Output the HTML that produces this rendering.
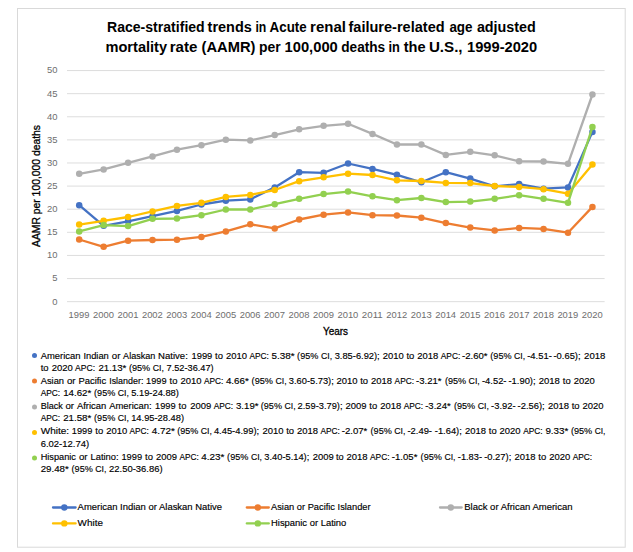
<!DOCTYPE html>
<html><head><meta charset="utf-8"><title>Chart</title>
<style>html,body{margin:0;padding:0;background:#fff;}svg{display:block;}text{font-family:"Liberation Sans",sans-serif;}</style>
</head><body>
<svg width="633" height="552" viewBox="0 0 633 552">
<rect x="0" y="0" width="633" height="552" fill="#ffffff"/>
<rect x="17.5" y="8.5" width="607.7" height="538.7" fill="#ffffff" stroke="#D9D9D9" stroke-width="1"/>
<line x1="67" y1="301.65" x2="604.6" y2="301.65" stroke="#D9D9D9" stroke-width="0.9"/>
<text x="52.15" y="304.50" font-size="9.6" fill="#6e6e6e" textLength="5.25" lengthAdjust="spacingAndGlyphs">0</text>
<line x1="67" y1="278.54" x2="604.6" y2="278.54" stroke="#D9D9D9" stroke-width="0.9"/>
<text x="52.15" y="281.39" font-size="9.6" fill="#6e6e6e" textLength="5.25" lengthAdjust="spacingAndGlyphs">5</text>
<line x1="67" y1="255.43" x2="604.6" y2="255.43" stroke="#D9D9D9" stroke-width="0.9"/>
<text x="46.90" y="258.28" font-size="9.6" fill="#6e6e6e" textLength="10.50" lengthAdjust="spacingAndGlyphs">10</text>
<line x1="67" y1="232.32" x2="604.6" y2="232.32" stroke="#D9D9D9" stroke-width="0.9"/>
<text x="46.90" y="235.17" font-size="9.6" fill="#6e6e6e" textLength="10.50" lengthAdjust="spacingAndGlyphs">15</text>
<line x1="67" y1="209.21" x2="604.6" y2="209.21" stroke="#D9D9D9" stroke-width="0.9"/>
<text x="46.90" y="212.06" font-size="9.6" fill="#6e6e6e" textLength="10.50" lengthAdjust="spacingAndGlyphs">20</text>
<line x1="67" y1="186.10" x2="604.6" y2="186.10" stroke="#D9D9D9" stroke-width="0.9"/>
<text x="46.90" y="188.95" font-size="9.6" fill="#6e6e6e" textLength="10.50" lengthAdjust="spacingAndGlyphs">25</text>
<line x1="67" y1="162.99" x2="604.6" y2="162.99" stroke="#D9D9D9" stroke-width="0.9"/>
<text x="46.90" y="165.84" font-size="9.6" fill="#6e6e6e" textLength="10.50" lengthAdjust="spacingAndGlyphs">30</text>
<line x1="67" y1="139.88" x2="604.6" y2="139.88" stroke="#D9D9D9" stroke-width="0.9"/>
<text x="46.90" y="142.73" font-size="9.6" fill="#6e6e6e" textLength="10.50" lengthAdjust="spacingAndGlyphs">35</text>
<line x1="67" y1="116.77" x2="604.6" y2="116.77" stroke="#D9D9D9" stroke-width="0.9"/>
<text x="46.90" y="119.62" font-size="9.6" fill="#6e6e6e" textLength="10.50" lengthAdjust="spacingAndGlyphs">40</text>
<line x1="67" y1="93.66" x2="604.6" y2="93.66" stroke="#D9D9D9" stroke-width="0.9"/>
<text x="46.90" y="96.51" font-size="9.6" fill="#6e6e6e" textLength="10.50" lengthAdjust="spacingAndGlyphs">45</text>
<line x1="67" y1="70.55" x2="604.6" y2="70.55" stroke="#D9D9D9" stroke-width="0.9"/>
<text x="46.90" y="73.00" font-size="9.6" fill="#6e6e6e" textLength="10.50" lengthAdjust="spacingAndGlyphs">50</text>
<text x="68.60" y="317.6" font-size="9.6" fill="#6e6e6e" textLength="20.9" lengthAdjust="spacingAndGlyphs">1999</text>
<text x="93.04" y="317.6" font-size="9.6" fill="#6e6e6e" textLength="20.9" lengthAdjust="spacingAndGlyphs">2000</text>
<text x="117.48" y="317.6" font-size="9.6" fill="#6e6e6e" textLength="20.9" lengthAdjust="spacingAndGlyphs">2001</text>
<text x="141.92" y="317.6" font-size="9.6" fill="#6e6e6e" textLength="20.9" lengthAdjust="spacingAndGlyphs">2002</text>
<text x="166.36" y="317.6" font-size="9.6" fill="#6e6e6e" textLength="20.9" lengthAdjust="spacingAndGlyphs">2003</text>
<text x="190.80" y="317.6" font-size="9.6" fill="#6e6e6e" textLength="20.9" lengthAdjust="spacingAndGlyphs">2004</text>
<text x="215.24" y="317.6" font-size="9.6" fill="#6e6e6e" textLength="20.9" lengthAdjust="spacingAndGlyphs">2005</text>
<text x="239.68" y="317.6" font-size="9.6" fill="#6e6e6e" textLength="20.9" lengthAdjust="spacingAndGlyphs">2006</text>
<text x="264.12" y="317.6" font-size="9.6" fill="#6e6e6e" textLength="20.9" lengthAdjust="spacingAndGlyphs">2007</text>
<text x="288.56" y="317.6" font-size="9.6" fill="#6e6e6e" textLength="20.9" lengthAdjust="spacingAndGlyphs">2008</text>
<text x="313.00" y="317.6" font-size="9.6" fill="#6e6e6e" textLength="20.9" lengthAdjust="spacingAndGlyphs">2009</text>
<text x="337.44" y="317.6" font-size="9.6" fill="#6e6e6e" textLength="20.9" lengthAdjust="spacingAndGlyphs">2010</text>
<text x="361.88" y="317.6" font-size="9.6" fill="#6e6e6e" textLength="20.9" lengthAdjust="spacingAndGlyphs">2011</text>
<text x="386.32" y="317.6" font-size="9.6" fill="#6e6e6e" textLength="20.9" lengthAdjust="spacingAndGlyphs">2012</text>
<text x="410.76" y="317.6" font-size="9.6" fill="#6e6e6e" textLength="20.9" lengthAdjust="spacingAndGlyphs">2013</text>
<text x="435.20" y="317.6" font-size="9.6" fill="#6e6e6e" textLength="20.9" lengthAdjust="spacingAndGlyphs">2014</text>
<text x="459.64" y="317.6" font-size="9.6" fill="#6e6e6e" textLength="20.9" lengthAdjust="spacingAndGlyphs">2015</text>
<text x="484.08" y="317.6" font-size="9.6" fill="#6e6e6e" textLength="20.9" lengthAdjust="spacingAndGlyphs">2016</text>
<text x="508.52" y="317.6" font-size="9.6" fill="#6e6e6e" textLength="20.9" lengthAdjust="spacingAndGlyphs">2017</text>
<text x="532.96" y="317.6" font-size="9.6" fill="#6e6e6e" textLength="20.9" lengthAdjust="spacingAndGlyphs">2018</text>
<text x="557.40" y="317.6" font-size="9.6" fill="#6e6e6e" textLength="20.9" lengthAdjust="spacingAndGlyphs">2019</text>
<text x="581.84" y="317.6" font-size="9.6" fill="#6e6e6e" textLength="20.9" lengthAdjust="spacingAndGlyphs">2020</text>
<polyline points="79.20,205.20 103.64,225.80 128.08,221.30 152.52,216.20 176.96,210.90 201.40,204.50 225.84,200.70 250.28,199.40 274.72,187.40 299.16,172.20 323.60,172.80 348.04,163.50 372.48,168.90 396.92,174.80 421.36,182.30 445.80,172.20 470.24,178.60 494.68,186.30 519.12,184.10 543.56,188.70 568.00,187.40 592.44,131.90" fill="none" stroke="#4472C4" stroke-width="2.3" stroke-linejoin="round" stroke-linecap="round"/>
<circle cx="79.20" cy="205.20" r="3.25" fill="#4472C4"/>
<circle cx="103.64" cy="225.80" r="3.25" fill="#4472C4"/>
<circle cx="128.08" cy="221.30" r="3.25" fill="#4472C4"/>
<circle cx="152.52" cy="216.20" r="3.25" fill="#4472C4"/>
<circle cx="176.96" cy="210.90" r="3.25" fill="#4472C4"/>
<circle cx="201.40" cy="204.50" r="3.25" fill="#4472C4"/>
<circle cx="225.84" cy="200.70" r="3.25" fill="#4472C4"/>
<circle cx="250.28" cy="199.40" r="3.25" fill="#4472C4"/>
<circle cx="274.72" cy="187.40" r="3.25" fill="#4472C4"/>
<circle cx="299.16" cy="172.20" r="3.25" fill="#4472C4"/>
<circle cx="323.60" cy="172.80" r="3.25" fill="#4472C4"/>
<circle cx="348.04" cy="163.50" r="3.25" fill="#4472C4"/>
<circle cx="372.48" cy="168.90" r="3.25" fill="#4472C4"/>
<circle cx="396.92" cy="174.80" r="3.25" fill="#4472C4"/>
<circle cx="421.36" cy="182.30" r="3.25" fill="#4472C4"/>
<circle cx="445.80" cy="172.20" r="3.25" fill="#4472C4"/>
<circle cx="470.24" cy="178.60" r="3.25" fill="#4472C4"/>
<circle cx="494.68" cy="186.30" r="3.25" fill="#4472C4"/>
<circle cx="519.12" cy="184.10" r="3.25" fill="#4472C4"/>
<circle cx="543.56" cy="188.70" r="3.25" fill="#4472C4"/>
<circle cx="568.00" cy="187.40" r="3.25" fill="#4472C4"/>
<circle cx="592.44" cy="131.90" r="3.25" fill="#4472C4"/>
<polyline points="79.20,239.50 103.64,246.80 128.08,240.70 152.52,240.00 176.96,239.70 201.40,236.90 225.84,231.40 250.28,224.30 274.72,228.40 299.16,219.50 323.60,214.70 348.04,212.40 372.48,215.20 396.92,215.50 421.36,217.70 445.80,223.10 470.24,227.60 494.68,230.40 519.12,227.90 543.56,228.90 568.00,232.70 592.44,206.90" fill="none" stroke="#ED7D31" stroke-width="2.3" stroke-linejoin="round" stroke-linecap="round"/>
<circle cx="79.20" cy="239.50" r="3.25" fill="#ED7D31"/>
<circle cx="103.64" cy="246.80" r="3.25" fill="#ED7D31"/>
<circle cx="128.08" cy="240.70" r="3.25" fill="#ED7D31"/>
<circle cx="152.52" cy="240.00" r="3.25" fill="#ED7D31"/>
<circle cx="176.96" cy="239.70" r="3.25" fill="#ED7D31"/>
<circle cx="201.40" cy="236.90" r="3.25" fill="#ED7D31"/>
<circle cx="225.84" cy="231.40" r="3.25" fill="#ED7D31"/>
<circle cx="250.28" cy="224.30" r="3.25" fill="#ED7D31"/>
<circle cx="274.72" cy="228.40" r="3.25" fill="#ED7D31"/>
<circle cx="299.16" cy="219.50" r="3.25" fill="#ED7D31"/>
<circle cx="323.60" cy="214.70" r="3.25" fill="#ED7D31"/>
<circle cx="348.04" cy="212.40" r="3.25" fill="#ED7D31"/>
<circle cx="372.48" cy="215.20" r="3.25" fill="#ED7D31"/>
<circle cx="396.92" cy="215.50" r="3.25" fill="#ED7D31"/>
<circle cx="421.36" cy="217.70" r="3.25" fill="#ED7D31"/>
<circle cx="445.80" cy="223.10" r="3.25" fill="#ED7D31"/>
<circle cx="470.24" cy="227.60" r="3.25" fill="#ED7D31"/>
<circle cx="494.68" cy="230.40" r="3.25" fill="#ED7D31"/>
<circle cx="519.12" cy="227.90" r="3.25" fill="#ED7D31"/>
<circle cx="543.56" cy="228.90" r="3.25" fill="#ED7D31"/>
<circle cx="568.00" cy="232.70" r="3.25" fill="#ED7D31"/>
<circle cx="592.44" cy="206.90" r="3.25" fill="#ED7D31"/>
<polyline points="79.20,173.80 103.64,169.40 128.08,162.80 152.52,156.40 176.96,149.70 201.40,145.20 225.84,139.70 250.28,140.40 274.72,135.10 299.16,129.30 323.60,125.80 348.04,123.80 372.48,133.90 396.92,144.50 421.36,144.50 445.80,154.90 470.24,151.80 494.68,155.30 519.12,161.30 543.56,161.50 568.00,163.80 592.44,94.50" fill="none" stroke="#AFAFAF" stroke-width="2.3" stroke-linejoin="round" stroke-linecap="round"/>
<circle cx="79.20" cy="173.80" r="3.25" fill="#AFAFAF"/>
<circle cx="103.64" cy="169.40" r="3.25" fill="#AFAFAF"/>
<circle cx="128.08" cy="162.80" r="3.25" fill="#AFAFAF"/>
<circle cx="152.52" cy="156.40" r="3.25" fill="#AFAFAF"/>
<circle cx="176.96" cy="149.70" r="3.25" fill="#AFAFAF"/>
<circle cx="201.40" cy="145.20" r="3.25" fill="#AFAFAF"/>
<circle cx="225.84" cy="139.70" r="3.25" fill="#AFAFAF"/>
<circle cx="250.28" cy="140.40" r="3.25" fill="#AFAFAF"/>
<circle cx="274.72" cy="135.10" r="3.25" fill="#AFAFAF"/>
<circle cx="299.16" cy="129.30" r="3.25" fill="#AFAFAF"/>
<circle cx="323.60" cy="125.80" r="3.25" fill="#AFAFAF"/>
<circle cx="348.04" cy="123.80" r="3.25" fill="#AFAFAF"/>
<circle cx="372.48" cy="133.90" r="3.25" fill="#AFAFAF"/>
<circle cx="396.92" cy="144.50" r="3.25" fill="#AFAFAF"/>
<circle cx="421.36" cy="144.50" r="3.25" fill="#AFAFAF"/>
<circle cx="445.80" cy="154.90" r="3.25" fill="#AFAFAF"/>
<circle cx="470.24" cy="151.80" r="3.25" fill="#AFAFAF"/>
<circle cx="494.68" cy="155.30" r="3.25" fill="#AFAFAF"/>
<circle cx="519.12" cy="161.30" r="3.25" fill="#AFAFAF"/>
<circle cx="543.56" cy="161.50" r="3.25" fill="#AFAFAF"/>
<circle cx="568.00" cy="163.80" r="3.25" fill="#AFAFAF"/>
<circle cx="592.44" cy="94.50" r="3.25" fill="#AFAFAF"/>
<polyline points="79.20,224.60 103.64,220.80 128.08,217.00 152.52,211.40 176.96,205.90 201.40,202.80 225.84,196.90 250.28,194.90 274.72,190.00 299.16,181.20 323.60,177.30 348.04,173.70 372.48,175.00 396.92,180.30 421.36,181.00 445.80,182.90 470.24,183.10 494.68,186.00 519.12,186.90 543.56,189.20 568.00,193.70 592.44,164.40" fill="none" stroke="#FFC000" stroke-width="2.3" stroke-linejoin="round" stroke-linecap="round"/>
<circle cx="79.20" cy="224.60" r="3.25" fill="#FFC000"/>
<circle cx="103.64" cy="220.80" r="3.25" fill="#FFC000"/>
<circle cx="128.08" cy="217.00" r="3.25" fill="#FFC000"/>
<circle cx="152.52" cy="211.40" r="3.25" fill="#FFC000"/>
<circle cx="176.96" cy="205.90" r="3.25" fill="#FFC000"/>
<circle cx="201.40" cy="202.80" r="3.25" fill="#FFC000"/>
<circle cx="225.84" cy="196.90" r="3.25" fill="#FFC000"/>
<circle cx="250.28" cy="194.90" r="3.25" fill="#FFC000"/>
<circle cx="274.72" cy="190.00" r="3.25" fill="#FFC000"/>
<circle cx="299.16" cy="181.20" r="3.25" fill="#FFC000"/>
<circle cx="323.60" cy="177.30" r="3.25" fill="#FFC000"/>
<circle cx="348.04" cy="173.70" r="3.25" fill="#FFC000"/>
<circle cx="372.48" cy="175.00" r="3.25" fill="#FFC000"/>
<circle cx="396.92" cy="180.30" r="3.25" fill="#FFC000"/>
<circle cx="421.36" cy="181.00" r="3.25" fill="#FFC000"/>
<circle cx="445.80" cy="182.90" r="3.25" fill="#FFC000"/>
<circle cx="470.24" cy="183.10" r="3.25" fill="#FFC000"/>
<circle cx="494.68" cy="186.00" r="3.25" fill="#FFC000"/>
<circle cx="519.12" cy="186.90" r="3.25" fill="#FFC000"/>
<circle cx="543.56" cy="189.20" r="3.25" fill="#FFC000"/>
<circle cx="568.00" cy="193.70" r="3.25" fill="#FFC000"/>
<circle cx="592.44" cy="164.40" r="3.25" fill="#FFC000"/>
<polyline points="79.20,231.40 103.64,225.10 128.08,226.10 152.52,218.80 176.96,218.50 201.40,215.20 225.84,209.50 250.28,209.50 274.72,204.20 299.16,198.80 323.60,194.10 348.04,191.60 372.48,196.30 396.92,200.20 421.36,198.00 445.80,202.10 470.24,201.60 494.68,198.80 519.12,195.20 543.56,198.80 568.00,202.80 592.44,127.10" fill="none" stroke="#92D050" stroke-width="2.3" stroke-linejoin="round" stroke-linecap="round"/>
<circle cx="79.20" cy="231.40" r="3.25" fill="#92D050"/>
<circle cx="103.64" cy="225.10" r="3.25" fill="#92D050"/>
<circle cx="128.08" cy="226.10" r="3.25" fill="#92D050"/>
<circle cx="152.52" cy="218.80" r="3.25" fill="#92D050"/>
<circle cx="176.96" cy="218.50" r="3.25" fill="#92D050"/>
<circle cx="201.40" cy="215.20" r="3.25" fill="#92D050"/>
<circle cx="225.84" cy="209.50" r="3.25" fill="#92D050"/>
<circle cx="250.28" cy="209.50" r="3.25" fill="#92D050"/>
<circle cx="274.72" cy="204.20" r="3.25" fill="#92D050"/>
<circle cx="299.16" cy="198.80" r="3.25" fill="#92D050"/>
<circle cx="323.60" cy="194.10" r="3.25" fill="#92D050"/>
<circle cx="348.04" cy="191.60" r="3.25" fill="#92D050"/>
<circle cx="372.48" cy="196.30" r="3.25" fill="#92D050"/>
<circle cx="396.92" cy="200.20" r="3.25" fill="#92D050"/>
<circle cx="421.36" cy="198.00" r="3.25" fill="#92D050"/>
<circle cx="445.80" cy="202.10" r="3.25" fill="#92D050"/>
<circle cx="470.24" cy="201.60" r="3.25" fill="#92D050"/>
<circle cx="494.68" cy="198.80" r="3.25" fill="#92D050"/>
<circle cx="519.12" cy="195.20" r="3.25" fill="#92D050"/>
<circle cx="543.56" cy="198.80" r="3.25" fill="#92D050"/>
<circle cx="568.00" cy="202.80" r="3.25" fill="#92D050"/>
<circle cx="592.44" cy="127.10" r="3.25" fill="#92D050"/>
<text x="107.00" y="31.60" font-size="14.5" font-weight="bold" fill="#000" textLength="97.70" lengthAdjust="spacingAndGlyphs">Race-stratified</text>
<text x="207.60" y="31.60" font-size="14.5" font-weight="bold" fill="#000" textLength="44.20" lengthAdjust="spacingAndGlyphs">trends</text>
<text x="255.40" y="31.60" font-size="14.5" font-weight="bold" fill="#000" textLength="10.90" lengthAdjust="spacingAndGlyphs">in</text>
<text x="269.60" y="31.60" font-size="14.5" font-weight="bold" fill="#000" textLength="37.10" lengthAdjust="spacingAndGlyphs">Acute</text>
<text x="310.10" y="31.60" font-size="14.5" font-weight="bold" fill="#000" textLength="35.80" lengthAdjust="spacingAndGlyphs">renal</text>
<text x="348.50" y="31.60" font-size="14.5" font-weight="bold" fill="#000" textLength="96.10" lengthAdjust="spacingAndGlyphs">failure-related</text>
<text x="449.40" y="31.60" font-size="14.5" font-weight="bold" fill="#000" textLength="23.20" lengthAdjust="spacingAndGlyphs">age</text>
<text x="476.90" y="31.60" font-size="14.5" font-weight="bold" fill="#000" textLength="58.90" lengthAdjust="spacingAndGlyphs">adjusted</text>
<text x="105.50" y="51.60" font-size="14.5" font-weight="bold" fill="#000" textLength="61.60" lengthAdjust="spacingAndGlyphs">mortality</text>
<text x="169.70" y="51.60" font-size="14.5" font-weight="bold" fill="#000" textLength="27.70" lengthAdjust="spacingAndGlyphs">rate</text>
<text x="201.50" y="51.60" font-size="14.5" font-weight="bold" fill="#000" textLength="53.90" lengthAdjust="spacingAndGlyphs">(AAMR)</text>
<text x="259.00" y="51.60" font-size="14.5" font-weight="bold" fill="#000" textLength="21.70" lengthAdjust="spacingAndGlyphs">per</text>
<text x="284.50" y="51.60" font-size="14.5" font-weight="bold" fill="#000" textLength="53.30" lengthAdjust="spacingAndGlyphs">100,000</text>
<text x="341.30" y="51.60" font-size="14.5" font-weight="bold" fill="#000" textLength="43.90" lengthAdjust="spacingAndGlyphs">deaths</text>
<text x="388.40" y="51.60" font-size="14.5" font-weight="bold" fill="#000" textLength="11.40" lengthAdjust="spacingAndGlyphs">in</text>
<text x="403.70" y="51.60" font-size="14.5" font-weight="bold" fill="#000" textLength="21.90" lengthAdjust="spacingAndGlyphs">the</text>
<text x="428.90" y="51.60" font-size="14.5" font-weight="bold" fill="#000" textLength="33.70" lengthAdjust="spacingAndGlyphs">U.S.,</text>
<text x="467.00" y="51.60" font-size="14.5" font-weight="bold" fill="#000" textLength="70.20" lengthAdjust="spacingAndGlyphs">1999-2020</text>
<text x="323.00" y="334.90" font-size="10.0" font-weight="normal" fill="#000" textLength="25.10" lengthAdjust="spacingAndGlyphs" stroke="#000" stroke-width="0.3">Years</text>
<text transform="translate(40.3,247) rotate(-90)" x="0" y="0" font-size="10.0" fill="#000" stroke="#000" stroke-width="0.3" textLength="122" lengthAdjust="spacingAndGlyphs">AAMR per 100,000 deaths</text>
<text x="40.70" y="358.60" font-size="9.4" font-weight="normal" fill="#000" textLength="39.80" lengthAdjust="spacingAndGlyphs" stroke="#000" stroke-width="0.15">American</text>
<text x="83.40" y="358.60" font-size="9.4" font-weight="normal" fill="#000" textLength="25.40" lengthAdjust="spacingAndGlyphs" stroke="#000" stroke-width="0.15">Indian</text>
<text x="111.80" y="358.60" font-size="9.4" font-weight="normal" fill="#000" textLength="8.60" lengthAdjust="spacingAndGlyphs" stroke="#000" stroke-width="0.15">or</text>
<text x="123.10" y="358.60" font-size="9.4" font-weight="normal" fill="#000" textLength="32.20" lengthAdjust="spacingAndGlyphs" stroke="#000" stroke-width="0.15">Alaskan</text>
<text x="158.00" y="358.60" font-size="9.4" font-weight="normal" fill="#000" textLength="29.80" lengthAdjust="spacingAndGlyphs" stroke="#000" stroke-width="0.15">Native:</text>
<text x="191.50" y="358.60" font-size="9.4" font-weight="normal" fill="#000" textLength="20.80" lengthAdjust="spacingAndGlyphs" stroke="#000" stroke-width="0.15">1999</text>
<text x="215.00" y="358.60" font-size="9.4" font-weight="normal" fill="#000" textLength="7.90" lengthAdjust="spacingAndGlyphs" stroke="#000" stroke-width="0.15">to</text>
<text x="225.90" y="358.60" font-size="9.4" font-weight="normal" fill="#000" textLength="21.00" lengthAdjust="spacingAndGlyphs" stroke="#000" stroke-width="0.15">2010</text>
<text x="249.40" y="358.60" font-size="9.4" font-weight="normal" fill="#000" textLength="19.50" lengthAdjust="spacingAndGlyphs" stroke="#000" stroke-width="0.15">APC:</text>
<text x="271.60" y="358.60" font-size="9.4" font-weight="normal" fill="#000" textLength="23.10" lengthAdjust="spacingAndGlyphs" stroke="#000" stroke-width="0.15">5.38*</text>
<text x="297.10" y="358.60" font-size="9.4" font-weight="normal" fill="#000" textLength="21.30" lengthAdjust="spacingAndGlyphs" stroke="#000" stroke-width="0.15">(95%</text>
<text x="320.90" y="358.60" font-size="9.4" font-weight="normal" fill="#000" textLength="11.20" lengthAdjust="spacingAndGlyphs" stroke="#000" stroke-width="0.15">CI,</text>
<text x="334.70" y="358.60" font-size="9.4" font-weight="normal" fill="#000" textLength="45.00" lengthAdjust="spacingAndGlyphs" stroke="#000" stroke-width="0.15">3.85-6.92);</text>
<text x="382.70" y="358.60" font-size="9.4" font-weight="normal" fill="#000" textLength="21.00" lengthAdjust="spacingAndGlyphs" stroke="#000" stroke-width="0.15">2010</text>
<text x="406.40" y="358.60" font-size="9.4" font-weight="normal" fill="#000" textLength="7.90" lengthAdjust="spacingAndGlyphs" stroke="#000" stroke-width="0.15">to</text>
<text x="417.30" y="358.60" font-size="9.4" font-weight="normal" fill="#000" textLength="21.00" lengthAdjust="spacingAndGlyphs" stroke="#000" stroke-width="0.15">2018</text>
<text x="440.80" y="358.60" font-size="9.4" font-weight="normal" fill="#000" textLength="19.50" lengthAdjust="spacingAndGlyphs" stroke="#000" stroke-width="0.15">APC:</text>
<text x="462.10" y="358.60" font-size="9.4" font-weight="normal" fill="#000" textLength="25.50" lengthAdjust="spacingAndGlyphs" stroke="#000" stroke-width="0.15">-2.60*</text>
<text x="490.30" y="358.60" font-size="9.4" font-weight="normal" fill="#000" textLength="21.30" lengthAdjust="spacingAndGlyphs" stroke="#000" stroke-width="0.15">(95%</text>
<text x="514.10" y="358.60" font-size="9.4" font-weight="normal" fill="#000" textLength="11.10" lengthAdjust="spacingAndGlyphs" stroke="#000" stroke-width="0.15">CI,</text>
<text x="527.20" y="358.60" font-size="9.4" font-weight="normal" fill="#000" textLength="24.60" lengthAdjust="spacingAndGlyphs" stroke="#000" stroke-width="0.15">-4.51-</text>
<text x="553.50" y="358.60" font-size="9.4" font-weight="normal" fill="#000" textLength="27.10" lengthAdjust="spacingAndGlyphs" stroke="#000" stroke-width="0.15">-0.65);</text>
<text x="584.10" y="358.60" font-size="9.4" font-weight="normal" fill="#000" textLength="21.30" lengthAdjust="spacingAndGlyphs" stroke="#000" stroke-width="0.15">2018</text>
<text x="40.70" y="371.20" font-size="9.4" font-weight="normal" fill="#000" textLength="7.90" lengthAdjust="spacingAndGlyphs" stroke="#000" stroke-width="0.15">to</text>
<text x="51.80" y="371.20" font-size="9.4" font-weight="normal" fill="#000" textLength="21.10" lengthAdjust="spacingAndGlyphs" stroke="#000" stroke-width="0.15">2020</text>
<text x="75.10" y="371.20" font-size="9.4" font-weight="normal" fill="#000" textLength="20.00" lengthAdjust="spacingAndGlyphs" stroke="#000" stroke-width="0.15">APC:</text>
<text x="98.40" y="371.20" font-size="9.4" font-weight="normal" fill="#000" textLength="28.00" lengthAdjust="spacingAndGlyphs" stroke="#000" stroke-width="0.15">21.13*</text>
<text x="128.90" y="371.20" font-size="9.4" font-weight="normal" fill="#000" textLength="21.30" lengthAdjust="spacingAndGlyphs" stroke="#000" stroke-width="0.15">(95%</text>
<text x="152.70" y="371.20" font-size="9.4" font-weight="normal" fill="#000" textLength="11.20" lengthAdjust="spacingAndGlyphs" stroke="#000" stroke-width="0.15">CI,</text>
<text x="166.60" y="371.20" font-size="9.4" font-weight="normal" fill="#000" textLength="47.00" lengthAdjust="spacingAndGlyphs" stroke="#000" stroke-width="0.15">7.52-36.47)</text>
<text x="40.70" y="383.80" font-size="9.4" font-weight="normal" fill="#000" textLength="23.30" lengthAdjust="spacingAndGlyphs" stroke="#000" stroke-width="0.15">Asian</text>
<text x="67.00" y="383.80" font-size="9.4" font-weight="normal" fill="#000" textLength="8.60" lengthAdjust="spacingAndGlyphs" stroke="#000" stroke-width="0.15">or</text>
<text x="78.40" y="383.80" font-size="9.4" font-weight="normal" fill="#000" textLength="27.80" lengthAdjust="spacingAndGlyphs" stroke="#000" stroke-width="0.15">Pacific</text>
<text x="109.20" y="383.80" font-size="9.4" font-weight="normal" fill="#000" textLength="34.20" lengthAdjust="spacingAndGlyphs" stroke="#000" stroke-width="0.15">Islander:</text>
<text x="146.10" y="383.80" font-size="9.4" font-weight="normal" fill="#000" textLength="20.50" lengthAdjust="spacingAndGlyphs" stroke="#000" stroke-width="0.15">1999</text>
<text x="169.60" y="383.80" font-size="9.4" font-weight="normal" fill="#000" textLength="7.90" lengthAdjust="spacingAndGlyphs" stroke="#000" stroke-width="0.15">to</text>
<text x="180.50" y="383.80" font-size="9.4" font-weight="normal" fill="#000" textLength="21.00" lengthAdjust="spacingAndGlyphs" stroke="#000" stroke-width="0.15">2010</text>
<text x="203.90" y="383.80" font-size="9.4" font-weight="normal" fill="#000" textLength="19.50" lengthAdjust="spacingAndGlyphs" stroke="#000" stroke-width="0.15">APC:</text>
<text x="225.90" y="383.80" font-size="9.4" font-weight="normal" fill="#000" textLength="23.00" lengthAdjust="spacingAndGlyphs" stroke="#000" stroke-width="0.15">4.66*</text>
<text x="251.60" y="383.80" font-size="9.4" font-weight="normal" fill="#000" textLength="21.30" lengthAdjust="spacingAndGlyphs" stroke="#000" stroke-width="0.15">(95%</text>
<text x="275.40" y="383.80" font-size="9.4" font-weight="normal" fill="#000" textLength="11.20" lengthAdjust="spacingAndGlyphs" stroke="#000" stroke-width="0.15">CI,</text>
<text x="288.80" y="383.80" font-size="9.4" font-weight="normal" fill="#000" textLength="45.00" lengthAdjust="spacingAndGlyphs" stroke="#000" stroke-width="0.15">3.60-5.73);</text>
<text x="336.40" y="383.80" font-size="9.4" font-weight="normal" fill="#000" textLength="21.00" lengthAdjust="spacingAndGlyphs" stroke="#000" stroke-width="0.15">2010</text>
<text x="360.20" y="383.80" font-size="9.4" font-weight="normal" fill="#000" textLength="7.90" lengthAdjust="spacingAndGlyphs" stroke="#000" stroke-width="0.15">to</text>
<text x="371.10" y="383.80" font-size="9.4" font-weight="normal" fill="#000" textLength="21.00" lengthAdjust="spacingAndGlyphs" stroke="#000" stroke-width="0.15">2018</text>
<text x="394.60" y="383.80" font-size="9.4" font-weight="normal" fill="#000" textLength="19.50" lengthAdjust="spacingAndGlyphs" stroke="#000" stroke-width="0.15">APC:</text>
<text x="416.10" y="383.80" font-size="9.4" font-weight="normal" fill="#000" textLength="25.50" lengthAdjust="spacingAndGlyphs" stroke="#000" stroke-width="0.15">-3.21*</text>
<text x="444.90" y="383.80" font-size="9.4" font-weight="normal" fill="#000" textLength="21.20" lengthAdjust="spacingAndGlyphs" stroke="#000" stroke-width="0.15">(95%</text>
<text x="468.60" y="383.80" font-size="9.4" font-weight="normal" fill="#000" textLength="11.20" lengthAdjust="spacingAndGlyphs" stroke="#000" stroke-width="0.15">CI,</text>
<text x="482.00" y="383.80" font-size="9.4" font-weight="normal" fill="#000" textLength="24.50" lengthAdjust="spacingAndGlyphs" stroke="#000" stroke-width="0.15">-4.52-</text>
<text x="508.50" y="383.80" font-size="9.4" font-weight="normal" fill="#000" textLength="27.10" lengthAdjust="spacingAndGlyphs" stroke="#000" stroke-width="0.15">-1.90);</text>
<text x="538.80" y="383.80" font-size="9.4" font-weight="normal" fill="#000" textLength="21.10" lengthAdjust="spacingAndGlyphs" stroke="#000" stroke-width="0.15">2018</text>
<text x="562.80" y="383.80" font-size="9.4" font-weight="normal" fill="#000" textLength="7.90" lengthAdjust="spacingAndGlyphs" stroke="#000" stroke-width="0.15">to</text>
<text x="573.70" y="383.80" font-size="9.4" font-weight="normal" fill="#000" textLength="21.00" lengthAdjust="spacingAndGlyphs" stroke="#000" stroke-width="0.15">2020</text>
<text x="40.70" y="396.30" font-size="9.4" font-weight="normal" fill="#000" textLength="19.50" lengthAdjust="spacingAndGlyphs" stroke="#000" stroke-width="0.15">APC:</text>
<text x="63.20" y="396.30" font-size="9.4" font-weight="normal" fill="#000" textLength="28.10" lengthAdjust="spacingAndGlyphs" stroke="#000" stroke-width="0.15">14.62*</text>
<text x="94.10" y="396.30" font-size="9.4" font-weight="normal" fill="#000" textLength="21.20" lengthAdjust="spacingAndGlyphs" stroke="#000" stroke-width="0.15">(95%</text>
<text x="117.80" y="396.30" font-size="9.4" font-weight="normal" fill="#000" textLength="11.20" lengthAdjust="spacingAndGlyphs" stroke="#000" stroke-width="0.15">CI,</text>
<text x="131.20" y="396.30" font-size="9.4" font-weight="normal" fill="#000" textLength="47.70" lengthAdjust="spacingAndGlyphs" stroke="#000" stroke-width="0.15">5.19-24.88)</text>
<text x="40.70" y="408.80" font-size="9.4" font-weight="normal" fill="#000" textLength="22.10" lengthAdjust="spacingAndGlyphs" stroke="#000" stroke-width="0.15">Black</text>
<text x="65.50" y="408.80" font-size="9.4" font-weight="normal" fill="#000" textLength="8.60" lengthAdjust="spacingAndGlyphs" stroke="#000" stroke-width="0.15">or</text>
<text x="76.90" y="408.80" font-size="9.4" font-weight="normal" fill="#000" textLength="29.30" lengthAdjust="spacingAndGlyphs" stroke="#000" stroke-width="0.15">African</text>
<text x="109.20" y="408.80" font-size="9.4" font-weight="normal" fill="#000" textLength="42.50" lengthAdjust="spacingAndGlyphs" stroke="#000" stroke-width="0.15">American:</text>
<text x="155.00" y="408.80" font-size="9.4" font-weight="normal" fill="#000" textLength="20.70" lengthAdjust="spacingAndGlyphs" stroke="#000" stroke-width="0.15">1999</text>
<text x="178.50" y="408.80" font-size="9.4" font-weight="normal" fill="#000" textLength="7.90" lengthAdjust="spacingAndGlyphs" stroke="#000" stroke-width="0.15">to</text>
<text x="190.20" y="408.80" font-size="9.4" font-weight="normal" fill="#000" textLength="21.00" lengthAdjust="spacingAndGlyphs" stroke="#000" stroke-width="0.15">2009</text>
<text x="213.70" y="408.80" font-size="9.4" font-weight="normal" fill="#000" textLength="19.50" lengthAdjust="spacingAndGlyphs" stroke="#000" stroke-width="0.15">APC:</text>
<text x="236.00" y="408.80" font-size="9.4" font-weight="normal" fill="#000" textLength="22.50" lengthAdjust="spacingAndGlyphs" stroke="#000" stroke-width="0.15">3.19*</text>
<text x="260.80" y="408.80" font-size="9.4" font-weight="normal" fill="#000" textLength="21.20" lengthAdjust="spacingAndGlyphs" stroke="#000" stroke-width="0.15">(95%</text>
<text x="284.50" y="408.80" font-size="9.4" font-weight="normal" fill="#000" textLength="11.10" lengthAdjust="spacingAndGlyphs" stroke="#000" stroke-width="0.15">CI,</text>
<text x="297.60" y="408.80" font-size="9.4" font-weight="normal" fill="#000" textLength="44.90" lengthAdjust="spacingAndGlyphs" stroke="#000" stroke-width="0.15">2.59-3.79);</text>
<text x="345.50" y="408.80" font-size="9.4" font-weight="normal" fill="#000" textLength="21.00" lengthAdjust="spacingAndGlyphs" stroke="#000" stroke-width="0.15">2009</text>
<text x="369.30" y="408.80" font-size="9.4" font-weight="normal" fill="#000" textLength="7.90" lengthAdjust="spacingAndGlyphs" stroke="#000" stroke-width="0.15">to</text>
<text x="380.20" y="408.80" font-size="9.4" font-weight="normal" fill="#000" textLength="21.00" lengthAdjust="spacingAndGlyphs" stroke="#000" stroke-width="0.15">2018</text>
<text x="403.70" y="408.80" font-size="9.4" font-weight="normal" fill="#000" textLength="19.50" lengthAdjust="spacingAndGlyphs" stroke="#000" stroke-width="0.15">APC:</text>
<text x="425.20" y="408.80" font-size="9.4" font-weight="normal" fill="#000" textLength="25.50" lengthAdjust="spacingAndGlyphs" stroke="#000" stroke-width="0.15">-3.24*</text>
<text x="454.00" y="408.80" font-size="9.4" font-weight="normal" fill="#000" textLength="21.20" lengthAdjust="spacingAndGlyphs" stroke="#000" stroke-width="0.15">(95%</text>
<text x="477.70" y="408.80" font-size="9.4" font-weight="normal" fill="#000" textLength="11.20" lengthAdjust="spacingAndGlyphs" stroke="#000" stroke-width="0.15">CI,</text>
<text x="491.10" y="408.80" font-size="9.4" font-weight="normal" fill="#000" textLength="24.50" lengthAdjust="spacingAndGlyphs" stroke="#000" stroke-width="0.15">-3.92-</text>
<text x="517.60" y="408.80" font-size="9.4" font-weight="normal" fill="#000" textLength="27.10" lengthAdjust="spacingAndGlyphs" stroke="#000" stroke-width="0.15">-2.56);</text>
<text x="547.90" y="408.80" font-size="9.4" font-weight="normal" fill="#000" textLength="21.10" lengthAdjust="spacingAndGlyphs" stroke="#000" stroke-width="0.15">2018</text>
<text x="571.70" y="408.80" font-size="9.4" font-weight="normal" fill="#000" textLength="7.90" lengthAdjust="spacingAndGlyphs" stroke="#000" stroke-width="0.15">to</text>
<text x="582.60" y="408.80" font-size="9.4" font-weight="normal" fill="#000" textLength="21.00" lengthAdjust="spacingAndGlyphs" stroke="#000" stroke-width="0.15">2020</text>
<text x="40.70" y="421.30" font-size="9.4" font-weight="normal" fill="#000" textLength="19.50" lengthAdjust="spacingAndGlyphs" stroke="#000" stroke-width="0.15">APC:</text>
<text x="63.20" y="421.30" font-size="9.4" font-weight="normal" fill="#000" textLength="28.10" lengthAdjust="spacingAndGlyphs" stroke="#000" stroke-width="0.15">21.58*</text>
<text x="94.10" y="421.30" font-size="9.4" font-weight="normal" fill="#000" textLength="21.20" lengthAdjust="spacingAndGlyphs" stroke="#000" stroke-width="0.15">(95%</text>
<text x="117.80" y="421.30" font-size="9.4" font-weight="normal" fill="#000" textLength="11.20" lengthAdjust="spacingAndGlyphs" stroke="#000" stroke-width="0.15">CI,</text>
<text x="131.20" y="421.30" font-size="9.4" font-weight="normal" fill="#000" textLength="52.80" lengthAdjust="spacingAndGlyphs" stroke="#000" stroke-width="0.15">14.95-28.48)</text>
<text x="40.70" y="434.30" font-size="9.4" font-weight="normal" fill="#000" textLength="28.40" lengthAdjust="spacingAndGlyphs" stroke="#000" stroke-width="0.15">White:</text>
<text x="71.80" y="434.30" font-size="9.4" font-weight="normal" fill="#000" textLength="20.50" lengthAdjust="spacingAndGlyphs" stroke="#000" stroke-width="0.15">1999</text>
<text x="95.30" y="434.30" font-size="9.4" font-weight="normal" fill="#000" textLength="7.90" lengthAdjust="spacingAndGlyphs" stroke="#000" stroke-width="0.15">to</text>
<text x="106.20" y="434.30" font-size="9.4" font-weight="normal" fill="#000" textLength="21.00" lengthAdjust="spacingAndGlyphs" stroke="#000" stroke-width="0.15">2010</text>
<text x="129.50" y="434.30" font-size="9.4" font-weight="normal" fill="#000" textLength="19.40" lengthAdjust="spacingAndGlyphs" stroke="#000" stroke-width="0.15">APC:</text>
<text x="151.70" y="434.30" font-size="9.4" font-weight="normal" fill="#000" textLength="23.10" lengthAdjust="spacingAndGlyphs" stroke="#000" stroke-width="0.15">4.72*</text>
<text x="177.20" y="434.30" font-size="9.4" font-weight="normal" fill="#000" textLength="21.10" lengthAdjust="spacingAndGlyphs" stroke="#000" stroke-width="0.15">(95%</text>
<text x="200.70" y="434.30" font-size="9.4" font-weight="normal" fill="#000" textLength="11.20" lengthAdjust="spacingAndGlyphs" stroke="#000" stroke-width="0.15">CI,</text>
<text x="213.90" y="434.30" font-size="9.4" font-weight="normal" fill="#000" textLength="45.30" lengthAdjust="spacingAndGlyphs" stroke="#000" stroke-width="0.15">4.45-4.99);</text>
<text x="262.60" y="434.30" font-size="9.4" font-weight="normal" fill="#000" textLength="21.00" lengthAdjust="spacingAndGlyphs" stroke="#000" stroke-width="0.15">2010</text>
<text x="286.20" y="434.30" font-size="9.4" font-weight="normal" fill="#000" textLength="7.90" lengthAdjust="spacingAndGlyphs" stroke="#000" stroke-width="0.15">to</text>
<text x="297.00" y="434.30" font-size="9.4" font-weight="normal" fill="#000" textLength="21.00" lengthAdjust="spacingAndGlyphs" stroke="#000" stroke-width="0.15">2018</text>
<text x="320.40" y="434.30" font-size="9.4" font-weight="normal" fill="#000" textLength="19.50" lengthAdjust="spacingAndGlyphs" stroke="#000" stroke-width="0.15">APC:</text>
<text x="341.70" y="434.30" font-size="9.4" font-weight="normal" fill="#000" textLength="25.60" lengthAdjust="spacingAndGlyphs" stroke="#000" stroke-width="0.15">-2.07*</text>
<text x="370.60" y="434.30" font-size="9.4" font-weight="normal" fill="#000" textLength="21.20" lengthAdjust="spacingAndGlyphs" stroke="#000" stroke-width="0.15">(95%</text>
<text x="394.30" y="434.30" font-size="9.4" font-weight="normal" fill="#000" textLength="11.20" lengthAdjust="spacingAndGlyphs" stroke="#000" stroke-width="0.15">CI,</text>
<text x="407.50" y="434.30" font-size="9.4" font-weight="normal" fill="#000" textLength="24.50" lengthAdjust="spacingAndGlyphs" stroke="#000" stroke-width="0.15">-2.49-</text>
<text x="434.80" y="434.30" font-size="9.4" font-weight="normal" fill="#000" textLength="27.00" lengthAdjust="spacingAndGlyphs" stroke="#000" stroke-width="0.15">-1.64);</text>
<text x="465.10" y="434.30" font-size="9.4" font-weight="normal" fill="#000" textLength="21.00" lengthAdjust="spacingAndGlyphs" stroke="#000" stroke-width="0.15">2018</text>
<text x="488.80" y="434.30" font-size="9.4" font-weight="normal" fill="#000" textLength="7.90" lengthAdjust="spacingAndGlyphs" stroke="#000" stroke-width="0.15">to</text>
<text x="499.40" y="434.30" font-size="9.4" font-weight="normal" fill="#000" textLength="21.00" lengthAdjust="spacingAndGlyphs" stroke="#000" stroke-width="0.15">2020</text>
<text x="523.20" y="434.30" font-size="9.4" font-weight="normal" fill="#000" textLength="19.50" lengthAdjust="spacingAndGlyphs" stroke="#000" stroke-width="0.15">APC:</text>
<text x="545.40" y="434.30" font-size="9.4" font-weight="normal" fill="#000" textLength="23.00" lengthAdjust="spacingAndGlyphs" stroke="#000" stroke-width="0.15">9.33*</text>
<text x="570.90" y="434.30" font-size="9.4" font-weight="normal" fill="#000" textLength="21.30" lengthAdjust="spacingAndGlyphs" stroke="#000" stroke-width="0.15">(95%</text>
<text x="594.70" y="434.30" font-size="9.4" font-weight="normal" fill="#000" textLength="10.70" lengthAdjust="spacingAndGlyphs" stroke="#000" stroke-width="0.15">CI,</text>
<text x="40.70" y="446.90" font-size="9.4" font-weight="normal" fill="#000" textLength="48.40" lengthAdjust="spacingAndGlyphs" stroke="#000" stroke-width="0.15">6.02-12.74)</text>
<text x="40.70" y="459.50" font-size="9.4" font-weight="normal" fill="#000" textLength="35.20" lengthAdjust="spacingAndGlyphs" stroke="#000" stroke-width="0.15">Hispanic</text>
<text x="78.90" y="459.50" font-size="9.4" font-weight="normal" fill="#000" textLength="8.60" lengthAdjust="spacingAndGlyphs" stroke="#000" stroke-width="0.15">or</text>
<text x="90.50" y="459.50" font-size="9.4" font-weight="normal" fill="#000" textLength="28.10" lengthAdjust="spacingAndGlyphs" stroke="#000" stroke-width="0.15">Latino:</text>
<text x="121.40" y="459.50" font-size="9.4" font-weight="normal" fill="#000" textLength="20.70" lengthAdjust="spacingAndGlyphs" stroke="#000" stroke-width="0.15">1999</text>
<text x="145.10" y="459.50" font-size="9.4" font-weight="normal" fill="#000" textLength="7.90" lengthAdjust="spacingAndGlyphs" stroke="#000" stroke-width="0.15">to</text>
<text x="156.00" y="459.50" font-size="9.4" font-weight="normal" fill="#000" textLength="21.00" lengthAdjust="spacingAndGlyphs" stroke="#000" stroke-width="0.15">2009</text>
<text x="179.60" y="459.50" font-size="9.4" font-weight="normal" fill="#000" textLength="19.30" lengthAdjust="spacingAndGlyphs" stroke="#000" stroke-width="0.15">APC:</text>
<text x="201.30" y="459.50" font-size="9.4" font-weight="normal" fill="#000" textLength="23.10" lengthAdjust="spacingAndGlyphs" stroke="#000" stroke-width="0.15">4.23*</text>
<text x="227.10" y="459.50" font-size="9.4" font-weight="normal" fill="#000" textLength="21.30" lengthAdjust="spacingAndGlyphs" stroke="#000" stroke-width="0.15">(95%</text>
<text x="250.90" y="459.50" font-size="9.4" font-weight="normal" fill="#000" textLength="11.10" lengthAdjust="spacingAndGlyphs" stroke="#000" stroke-width="0.15">CI,</text>
<text x="264.30" y="459.50" font-size="9.4" font-weight="normal" fill="#000" textLength="45.00" lengthAdjust="spacingAndGlyphs" stroke="#000" stroke-width="0.15">3.40-5.14);</text>
<text x="312.80" y="459.50" font-size="9.4" font-weight="normal" fill="#000" textLength="21.00" lengthAdjust="spacingAndGlyphs" stroke="#000" stroke-width="0.15">2009</text>
<text x="336.00" y="459.50" font-size="9.4" font-weight="normal" fill="#000" textLength="7.70" lengthAdjust="spacingAndGlyphs" stroke="#000" stroke-width="0.15">to</text>
<text x="346.50" y="459.50" font-size="9.4" font-weight="normal" fill="#000" textLength="21.10" lengthAdjust="spacingAndGlyphs" stroke="#000" stroke-width="0.15">2018</text>
<text x="370.00" y="459.50" font-size="9.4" font-weight="normal" fill="#000" textLength="19.60" lengthAdjust="spacingAndGlyphs" stroke="#000" stroke-width="0.15">APC:</text>
<text x="391.80" y="459.50" font-size="9.4" font-weight="normal" fill="#000" textLength="25.60" lengthAdjust="spacingAndGlyphs" stroke="#000" stroke-width="0.15">-1.05*</text>
<text x="420.60" y="459.50" font-size="9.4" font-weight="normal" fill="#000" textLength="21.30" lengthAdjust="spacingAndGlyphs" stroke="#000" stroke-width="0.15">(95%</text>
<text x="444.40" y="459.50" font-size="9.4" font-weight="normal" fill="#000" textLength="11.10" lengthAdjust="spacingAndGlyphs" stroke="#000" stroke-width="0.15">CI,</text>
<text x="457.80" y="459.50" font-size="9.4" font-weight="normal" fill="#000" textLength="24.20" lengthAdjust="spacingAndGlyphs" stroke="#000" stroke-width="0.15">-1.83-</text>
<text x="484.20" y="459.50" font-size="9.4" font-weight="normal" fill="#000" textLength="27.10" lengthAdjust="spacingAndGlyphs" stroke="#000" stroke-width="0.15">-0.27);</text>
<text x="514.60" y="459.50" font-size="9.4" font-weight="normal" fill="#000" textLength="21.00" lengthAdjust="spacingAndGlyphs" stroke="#000" stroke-width="0.15">2018</text>
<text x="538.30" y="459.50" font-size="9.4" font-weight="normal" fill="#000" textLength="7.90" lengthAdjust="spacingAndGlyphs" stroke="#000" stroke-width="0.15">to</text>
<text x="549.20" y="459.50" font-size="9.4" font-weight="normal" fill="#000" textLength="21.00" lengthAdjust="spacingAndGlyphs" stroke="#000" stroke-width="0.15">2020</text>
<text x="572.70" y="459.50" font-size="9.4" font-weight="normal" fill="#000" textLength="19.50" lengthAdjust="spacingAndGlyphs" stroke="#000" stroke-width="0.15">APC:</text>
<text x="40.70" y="472.10" font-size="9.4" font-weight="normal" fill="#000" textLength="28.10" lengthAdjust="spacingAndGlyphs" stroke="#000" stroke-width="0.15">29.48*</text>
<text x="71.60" y="472.10" font-size="9.4" font-weight="normal" fill="#000" textLength="21.20" lengthAdjust="spacingAndGlyphs" stroke="#000" stroke-width="0.15">(95%</text>
<text x="95.30" y="472.10" font-size="9.4" font-weight="normal" fill="#000" textLength="11.20" lengthAdjust="spacingAndGlyphs" stroke="#000" stroke-width="0.15">CI,</text>
<text x="109.00" y="472.10" font-size="9.4" font-weight="normal" fill="#000" textLength="53.60" lengthAdjust="spacingAndGlyphs" stroke="#000" stroke-width="0.15">22.50-36.86)</text>
<circle cx="34.5" cy="355.4" r="2.5" fill="#4472C4"/>
<circle cx="34.5" cy="381.1" r="2.5" fill="#ED7D31"/>
<circle cx="34.5" cy="407.0" r="2.5" fill="#AFAFAF"/>
<circle cx="34.5" cy="432.4" r="2.5" fill="#FFC000"/>
<circle cx="34.5" cy="457.9" r="2.5" fill="#92D050"/>
<line x1="53" y1="507.5" x2="75.6" y2="507.5" stroke="#4472C4" stroke-width="2.3" stroke-linecap="round"/>
<circle cx="64.3" cy="507.5" r="3.2" fill="#4472C4"/>
<text x="77.60" y="510.10" font-size="9.4" font-weight="normal" fill="#000" textLength="144.40" lengthAdjust="spacingAndGlyphs" stroke="#000" stroke-width="0.15">American Indian or Alaskan Native</text>
<line x1="246.8" y1="507.5" x2="268.8" y2="507.5" stroke="#ED7D31" stroke-width="2.3" stroke-linecap="round"/>
<circle cx="257.8" cy="507.5" r="3.2" fill="#ED7D31"/>
<text x="271.00" y="510.10" font-size="9.4" font-weight="normal" fill="#000" textLength="99.60" lengthAdjust="spacingAndGlyphs" stroke="#000" stroke-width="0.15">Asian or Pacific Islander</text>
<line x1="440" y1="507.5" x2="461.7" y2="507.5" stroke="#AFAFAF" stroke-width="2.3" stroke-linecap="round"/>
<circle cx="450.8" cy="507.5" r="3.2" fill="#AFAFAF"/>
<text x="464.20" y="510.10" font-size="9.4" font-weight="normal" fill="#000" textLength="108.40" lengthAdjust="spacingAndGlyphs" stroke="#000" stroke-width="0.15">Black or African American</text>
<line x1="53" y1="523.4" x2="75.6" y2="523.4" stroke="#FFC000" stroke-width="2.3" stroke-linecap="round"/>
<circle cx="64.3" cy="523.4" r="3.2" fill="#FFC000"/>
<text x="77.60" y="526.20" font-size="9.4" font-weight="normal" fill="#000" textLength="25.30" lengthAdjust="spacingAndGlyphs" stroke="#000" stroke-width="0.15">White</text>
<line x1="246.8" y1="523.4" x2="268.8" y2="523.4" stroke="#92D050" stroke-width="2.3" stroke-linecap="round"/>
<circle cx="257.8" cy="523.4" r="3.2" fill="#92D050"/>
<text x="271.00" y="526.20" font-size="9.4" font-weight="normal" fill="#000" textLength="75.30" lengthAdjust="spacingAndGlyphs" stroke="#000" stroke-width="0.15">Hispanic or Latino</text>
</svg>
</body></html>
